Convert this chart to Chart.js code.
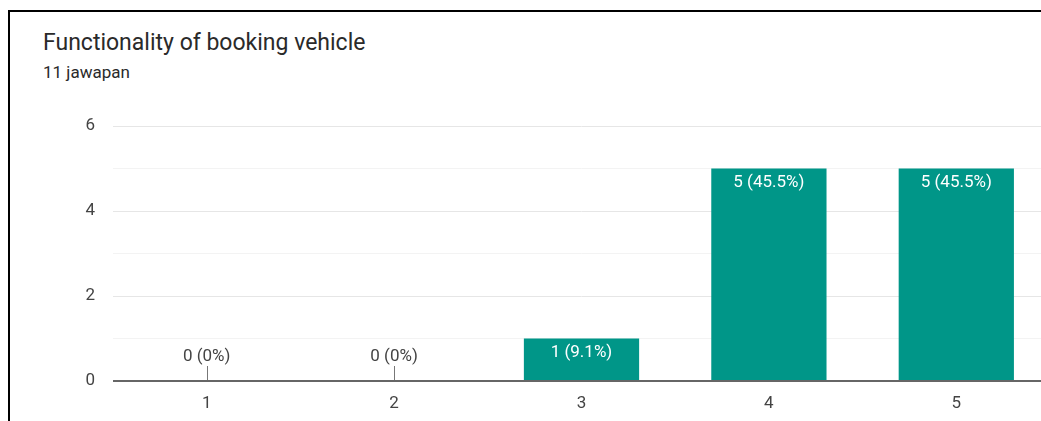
<!DOCTYPE html>
<html>
<head>
<meta charset="utf-8">
<script src="https://cdn.jsdelivr.net/npm/chart.js@4.4.1/dist/chart.umd.min.js"></script>
<style>
  html, body { margin: 0; padding: 0; background: #fff; overflow: hidden; }
  body { width: 1041px; height: 421px; position: relative; font-family: Roboto, Arial, sans-serif; }
  .frame { position: absolute; left: 8px; top: 10px; width: 1100px; height: 500px; border-top: 2px solid #000; border-left: 2px solid #000; }
  .title { position: absolute; left: 43px; top: 31px; font-size: 23px; line-height: 1; color: #2a2a2a; white-space: nowrap; }
  .sub { position: absolute; left: 43px; top: 64px; font-size: 17px; line-height: 1; color: #2a2a2a; white-space: nowrap; }
  .wrap { position: absolute; left: 0; top: 0; width: 1050px; height: 421px; }
</style>
</head>
<body>
<div class="frame"></div>
<div class="title">Functionality of booking vehicle</div>
<div class="sub">11 jawapan</div>
<div class="wrap"><canvas id="c"></canvas></div>
<script>
const categories = ['1', '2', '3', '4', '5'];
const counts = [0, 0, 1, 5, 5];
const labels = ['0 (0%)', '0 (0%)', '1 (9.1%)', '5 (45.5%)', '5 (45.5%)'];

const barLabels = {
  id: 'barLabels',
  afterDatasetsDraw(chart) {
    const ctx = chart.ctx;
    const meta = chart.getDatasetMeta(0);
    const y = chart.scales.y;
    ctx.save();
    ctx.font = '17px Roboto, Arial, sans-serif';
    ctx.textAlign = 'center';
    ctx.textBaseline = 'middle';
    meta.data.forEach((bar, i) => {
      if (counts[i] === 0) {
        const base = y.getPixelForValue(0);
        ctx.strokeStyle = '#777';
        ctx.lineWidth = 1;
        ctx.beginPath();
        ctx.moveTo(Math.round(bar.x) + 0.5, base - 15);
        ctx.lineTo(Math.round(bar.x) + 0.5, base);
        ctx.stroke();
        ctx.fillStyle = '#444';
        ctx.fillText(labels[i], bar.x, base - 24);
      } else {
        ctx.fillStyle = '#fff';
        ctx.fillText(labels[i], bar.x, bar.y + 14);
      }
    });
    // zero axis line
    const z = y.getPixelForValue(0);
    ctx.strokeStyle = '#666';
    ctx.lineWidth = 2;
    ctx.beginPath();
    ctx.moveTo(chart.chartArea.left, z);
    ctx.lineTo(chart.chartArea.right, z);
    ctx.stroke();
    ctx.restore();
  }
};

new Chart(document.getElementById('c'), {
  type: 'bar',
  data: {
    labels: categories,
    datasets: [{
      data: counts,
      backgroundColor: '#009688',
      categoryPercentage: 1,
      barPercentage: 0.615
    }]
  },
  options: {
    responsive: true,
    maintainAspectRatio: false,
    animation: false,
    layout: { padding: { top: 126, right: 0, bottom: 0, left: 0 } },
    plugins: { legend: { display: false }, tooltip: { enabled: false } },
    scales: {
      x: {
        grid: { display: false },
        border: { display: false },
        ticks: { color: '#444', font: { family: 'Roboto', size: 17 }, padding: 5 },
        afterFit(s) { s.height = 40; }
      },
      y: {
        min: 0,
        max: 6,
        border: { display: false },
        grid: {
          drawTicks: false,
          color: c => (c.tick.value % 2 === 0 ? '#e6e6e6' : '#f3f3f3')
        },
        ticks: {
          stepSize: 1,
          color: '#444',
          font: { family: 'Roboto', size: 17 },
          padding: 18,
          callback: v => (v % 2 === 0 ? v : '')
        },
        afterFit(s) { s.width = 113; }
      }
    }
  },
  plugins: [barLabels]
});
</script>
</body>
</html>
